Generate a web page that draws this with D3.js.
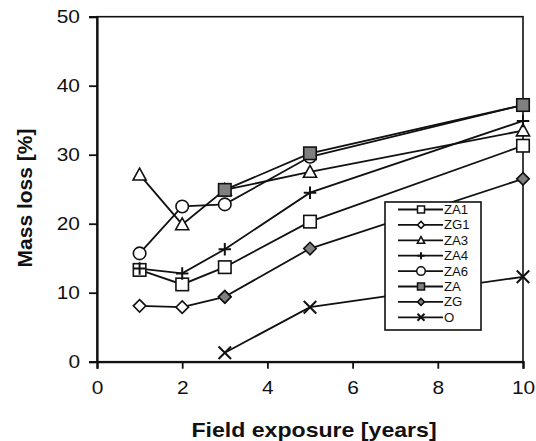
<!DOCTYPE html>
<html>
<head>
<meta charset="utf-8">
<script src="https://cdn.jsdelivr.net/npm/d3@7"></script>
<style>
  body { margin: 0; background: #fff; }
  svg { display: block; font-family: "Liberation Sans", Arial, sans-serif; }
</style>
</head>
<body>
<svg id="chart" width="536" height="441"></svg>
<script>
// values
var seriesNames = ["ZA1", "ZG1", "ZA3", "ZA4", "ZA6", "ZA", "ZG", "O"];
var yearsLong = [1, 2, 3, 5, 10];
var yearsEarly = [1, 2, 3];
var yearsLate = [3, 5, 10];
var za1 = [13.3, 11.2, 13.7, 20.3, 31.3];
var zg1 = [8.1, 7.9, 9.4];
var za3 = [27.1, 19.9, 24.9, 27.5, 33.5];
var za4 = [13.5, 12.8, 16.3, 24.5, 34.9];
var za6 = [15.7, 22.5, 22.8, 29.7, 37.2];
var za = [24.9, 30.2, 37.2];
var zg = [9.4, 16.4, 26.5];
var o = [1.3, 7.9, 12.3];
var xTicks = [0, 2, 4, 6, 8, 10];
var yTicks = [0, 10, 20, 30, 40, 50];

var markers = ["square", "diamond", "triangle", "plus", "circle", "square", "diamond", "cross"];
var fills = ["#fff", "#fff", "#fff", "none", "#fff", "#808080", "#808080", "none"];
var xs = [yearsLong, yearsEarly, yearsLong, yearsLong, yearsLong, yearsLate, yearsLate, yearsLate];
var ys = [za1, zg1, za3, za4, za6, za, zg, o];

var series = seriesNames.map(function(name, i) {
  return {
    name: name,
    marker: markers[i],
    fill: fills[i],
    points: xs[i].map(function(v, j) { return [v, ys[i][j]]; })
  };
});

var stretch = 1.1; // the picture is a bit wider than it is tall

var mLeft = 97, mRight = 523, mTop = 16.7, mBottom = 361.7;
var svg = d3.select("#chart");

var x = d3.scaleLinear().domain([0, 10]).range([mLeft, mRight]);
var y = d3.scaleLinear().domain([0, 50]).range([mBottom, mTop]);

function widen(sel) {
  sel.each(function() {
    var w = this.getComputedTextLength();
    d3.select(this).attr("textLength", w * stretch).attr("lengthAdjust", "spacingAndGlyphs");
  });
}

// frame
svg.append("rect")
  .attr("x", mLeft).attr("y", mTop)
  .attr("width", mRight - mLeft).attr("height", mBottom - mTop)
  .attr("fill", "none").attr("stroke", "#111").attr("stroke-width", 1.6);

var xAxis = svg.append("g")
  .attr("transform", "translate(0," + mBottom + ")")
  .call(d3.axisBottom(x).tickValues(xTicks).tickSize(7).tickPadding(12).tickFormat(d3.format("d")));
var yAxis = svg.append("g")
  .attr("transform", "translate(" + mLeft + ",0)")
  .call(d3.axisLeft(y).tickValues(yTicks).tickSize(8).tickPadding(9).tickFormat(d3.format("d")));

[xAxis, yAxis].forEach(function(a) {
  a.select(".domain").attr("stroke", "#111").attr("stroke-width", 2.2);
  a.selectAll(".tick line").attr("stroke", "#111").attr("stroke-width", 1.8);
  a.selectAll(".tick text")
    .attr("fill", "#111")
    .style("font-size", "19px");
  widen(a.selectAll(".tick text"));
});

// titles
svg.append("text")
  .attr("x", (mLeft + mRight) / 2 + 4).attr("y", 437)
  .attr("text-anchor", "middle")
  .style("font-size", "21px").style("font-weight", "bold").attr("fill", "#111")
  .text("Field exposure [years]")
  .call(widen);

svg.append("text")
  .attr("transform", "translate(32,198) rotate(-90)")
  .attr("text-anchor", "middle")
  .style("font-size", "21px").style("font-weight", "bold").attr("fill", "#111")
  .text("Mass loss [%]");

// marker drawing
function drawMarker(g, type, fill, s) {
  var h = s / 2;
  if (type === "square") {
    g.append("rect").attr("x", -h).attr("y", -h).attr("width", s).attr("height", s);
  } else if (type === "circle") {
    g.append("circle").attr("r", h);
  } else if (type === "diamond") {
    g.append("path").attr("d", "M0," + (-h) + "L" + h + ",0L0," + h + "L" + (-h) + ",0Z");
  } else if (type === "triangle") {
    g.append("path").attr("d", "M0," + (-h * 1.05) + "L" + (h * 1.05) + "," + (h * 0.85) + "L" + (-h * 1.05) + "," + (h * 0.85) + "Z");
  } else if (type === "plus") {
    g.append("path").attr("d", "M" + (-h) + ",0H" + h + "M0," + (-h) + "V" + h);
  } else if (type === "cross") {
    g.append("path").attr("d", "M" + (-h) + "," + (-h) + "L" + h + "," + h + "M" + h + "," + (-h) + "L" + (-h) + "," + h);
  }
  g.selectAll("*").attr("fill", fill).attr("stroke", "#111");
}

var line = d3.line().x(function(d) { return x(d[0]); }).y(function(d) { return y(d[1]); });

var plot = svg.append("g");
plot.selectAll("path.series")
  .data(series)
  .join("path")
  .attr("class", "series")
  .attr("d", function(d) { return line(d.points); })
  .attr("fill", "none").attr("stroke", "#111").attr("stroke-width", 1.8);

series.forEach(function(s) {
  s.points.forEach(function(p) {
    var g = plot.append("g").attr("transform", "translate(" + x(p[0]) + "," + y(p[1]) + ")");
    drawMarker(g, s.marker, s.fill, 12.5);
    g.selectAll("*").attr("stroke-width", s.marker === "plus" || s.marker === "cross" ? 2 : 1.6);
  });
});

// legend
var lx = 385, ly = 202, lw = 96, lh = 128;
var legend = svg.append("g");
legend.append("rect")
  .attr("x", lx).attr("y", ly).attr("width", lw).attr("height", lh)
  .attr("fill", "#fff").attr("stroke", "#111").attr("stroke-width", 1.6);

var rows = legend.selectAll("g.row")
  .data(series)
  .join("g")
  .attr("class", "row")
  .attr("transform", function(d, i) { return "translate(0," + (209.5 + i * 15.4) + ")"; });

rows.append("line")
  .attr("x1", 398).attr("x2", 443)
  .attr("stroke", "#111").attr("stroke-width", 1.8);

rows.each(function(d) {
  var g = d3.select(this).append("g").attr("transform", "translate(421,0)");
  var size = d.marker === "circle" ? 8.5 : 7;
  drawMarker(g, d.marker, d.fill, size);
  g.selectAll("*").attr("stroke-width", d.marker === "plus" || d.marker === "cross" ? 2 : 1.5);
});

rows.append("text")
  .attr("x", 444).attr("y", 4.5)
  .style("font-size", "12px").attr("fill", "#111")
  .text(function(d) { return d.name; })
  .call(widen);
</script>
</body>
</html>
